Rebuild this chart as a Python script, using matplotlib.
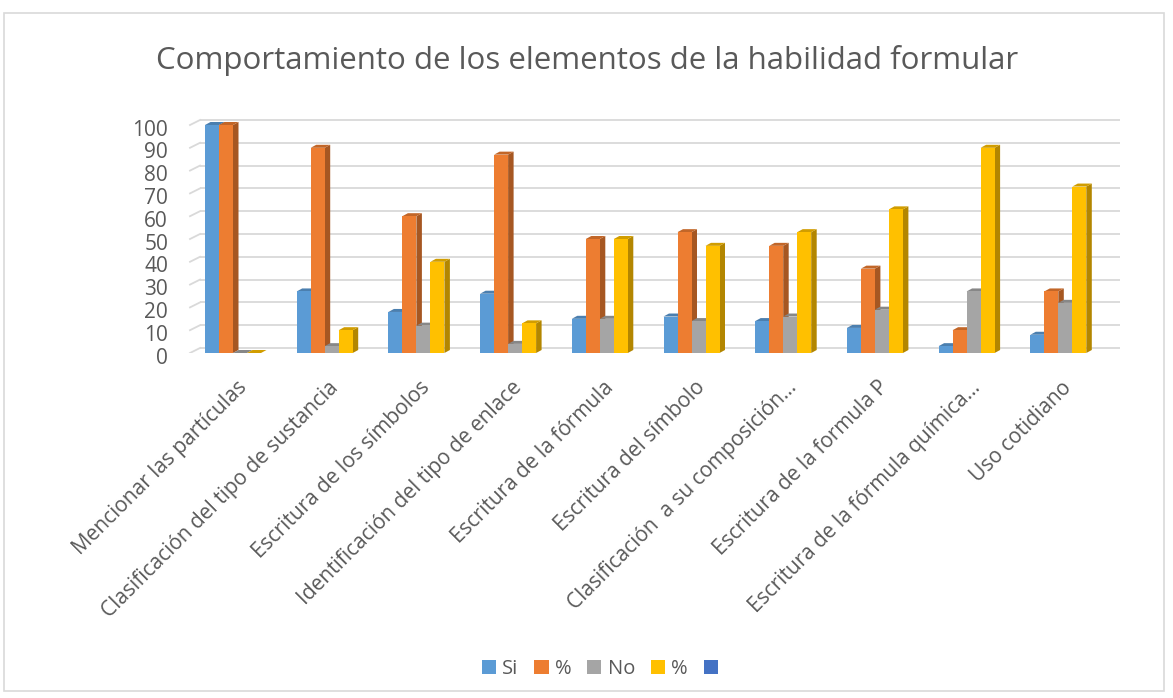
import matplotlib
matplotlib.use("Agg")
import matplotlib.pyplot as plt
from matplotlib.patches import Polygon, Patch, Rectangle
import numpy as np

plt.rcParams['font.family'] = ['Open Sans', 'DejaVu Sans']

categories = ["Mencionar las partículas", "Clasificación del tipo de sustancia",
              "Escritura de los símbolos", "Identificación del tipo de enlace",
              "Escritura de la fórmula", "Escritura del símbolo",
              "Clasificación  a su composición…", "Escritura de la formula P",
              "Escritura de la fórmula química…", "Uso cotidiano"]
si_vals = [100, 27, 18, 26, 15, 16, 14, 11, 3, 8]
si_pct = [100, 90, 60, 87, 50, 53, 47, 37, 10, 27]
no_vals = [0, 3, 12, 4, 15, 14, 16, 19, 27, 22]
no_pct = [0, 10, 40, 13, 50, 47, 53, 63, 90, 73]
series_names = ["Si", "%", "No", "%", ""]
yticks = list(range(0, 101, 10))

colors = ["#5B9BD5", "#ED7D31", "#A5A5A5", "#FFC000", "#4472C4"]
series = [si_vals, si_pct, no_vals, no_pct]

W, H = 1173, 698
fig = plt.figure(figsize=(W / 100, H / 100), dpi=100)

# pixel geometry
x0_px, gap_px = 233.0, 91.7     # center of first group, spacing
y0_px, scale_px = 353.0, 2.28   # floor front, px per unit
ax_l, ax_r, ax_t = 150, 1150, 100
ax = fig.add_axes([ax_l / W, 1 - y0_px / H, (ax_r - ax_l) / W, (y0_px - ax_t) / H])
ax.set_xlim((ax_l - x0_px) / gap_px, (ax_r - x0_px) / gap_px)
ax.set_ylim(0, (y0_px - ax_t) / scale_px)
ax.axis('off')

px = 1 / gap_px
py = 1 / scale_px

def darker(c, f):
    c = matplotlib.colors.to_rgb(c)
    return tuple(v * f for v in c)

# back-wall gridlines
dxb, dyb = 10 * px, 5 * py
gl_left = (190 - x0_px) / gap_px
gl_right = (1120 - x0_px) / gap_px
for v in yticks:
    ax.plot([gl_left + dxb, gl_right], [v + dyb, v + dyb], color="#D9D9D9", lw=1.3, zorder=1,
            solid_capstyle='butt')
    ax.plot([gl_left, gl_left + dxb], [v, v + dyb], color="#D9D9D9", lw=1.3, zorder=1)
    ax.text((168 - x0_px) / gap_px, v - 5 * py, str(v), ha='right', va='center',
            fontsize=15, color="#595959", clip_on=False)

# bars with pseudo-3D faces
w = 14 * px
ddx, ddy = 5.5 * px, 3 * py
for i in range(len(categories)):
    for k, vals in enumerate(series):
        h = vals[i]
        L = i + (k - 2) * w
        R = L + w
        z = 2 + k * 3 + i * 20
        ax.bar(L, h, width=w, align='edge', color=colors[k], zorder=z + 2, linewidth=0)
        side = Polygon([(R, 0), (R + ddx, ddy), (R + ddx, h + ddy), (R, h)],
                       closed=True, facecolor=darker(colors[k], 0.7), edgecolor='none', zorder=z)
        top = Polygon([(L, h), (L + ddx, h + ddy), (R + ddx, h + ddy), (R, h)],
                      closed=True, facecolor=darker(colors[k], 0.82), edgecolor='none', zorder=z + 1)
        ax.add_patch(side)
        ax.add_patch(top)

# category labels
for i, lab in enumerate(categories):
    ax.text(i + 3 * px, -24 * py, lab, rotation=45, rotation_mode='anchor',
            ha='right', va='top', fontsize=15, color="#595959", clip_on=False)

fig.text(587 / W, 1 - 61 / H, "Comportamiento de los elementos de la habilidad formular",
         ha='center', va='center', fontsize=22.5, color="#595959")

handles = [Patch(facecolor=c, edgecolor='none') for c in colors]
fig.legend(handles, series_names, loc='center', bbox_to_anchor=(603 / W, 1 - 669 / H),
           ncol=5, frameon=False, fontsize=14.5, handlelength=0.7, handleheight=0.7,
           handletextpad=0.3, columnspacing=0.8, labelcolor="#595959")

fig.patches.append(Rectangle((4 / W, 1 - 691 / H), 1160 / W, 678 / H, transform=fig.transFigure,
                             fill=False, edgecolor="#D9D9D9", lw=1.2))

fig.savefig("out.png", dpi=100)
